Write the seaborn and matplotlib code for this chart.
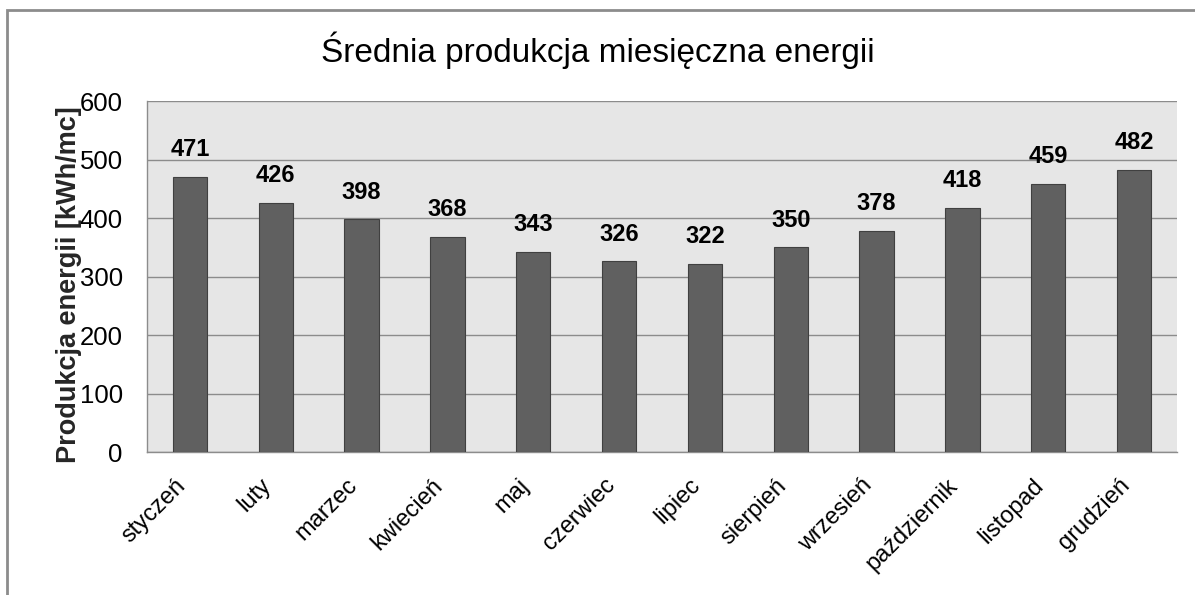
import pandas as pd
import numpy as np
import matplotlib.pyplot as plt
import seaborn as sns
from matplotlib.patches import Rectangle

months = ['styczeń', 'luty', 'marzec', 'kwiecień', 'maj', 'czerwiec',
          'lipiec', 'sierpień', 'wrzesień', 'październik', 'listopad', 'grudzień']
energy = [471, 426, 398, 368, 343, 326, 322, 350, 378, 418, 459, 482]
y_ticks = [0, 100, 200, 300, 400, 500, 600]

df = pd.DataFrame({'miesiac': months, 'energia': energy})

sns.set_style('white')
plt.rcParams['font.family'] = ['Liberation Sans', 'DejaVu Sans']
plt.rcParams['text.color'] = 'black'
plt.rcParams['xtick.color'] = 'black'
plt.rcParams['ytick.color'] = 'black'

fig = plt.figure(figsize=(11.95, 5.95), dpi=100)
ax = fig.add_axes([0.123, 0.240, 0.862, 0.590])

sns.barplot(data=df, x='miesiac', y='energia', color='#606060', width=0.4,
            saturation=1, edgecolor='#404040', linewidth=0.8, ax=ax, zorder=3)

ax.set_facecolor('#e6e6e6')
ax.set_ylim(0, 600)
ax.set_xlim(-0.5, len(months) - 0.5)
ax.set_yticks(y_ticks)
ax.yaxis.grid(True, color='#8c8c8c', linewidth=1, zorder=0)
ax.set_axisbelow(True)

for s in ['top', 'right']:
    ax.spines[s].set_visible(False)
for s in ['left', 'bottom']:
    ax.spines[s].set_color('#8c8c8c')
    ax.spines[s].set_linewidth(1)

# labels sit a bit left of the bar centre, ticks between categories like Excel
ax.set_xticks(np.arange(len(months)) - 0.18)
ax.set_xticklabels(months, rotation=45, ha='right', rotation_mode='anchor', fontsize=17)
ax.tick_params(axis='x', length=0, pad=16)
ax.set_xticks(np.arange(-0.5, len(months)), minor=True)
ax.tick_params(axis='x', which='minor', length=8, color='#8c8c8c', width=1)
ax.tick_params(axis='y', length=6.5, color='#8c8c8c', width=1, labelsize=18.5, pad=11,
               labelcolor='black')

for i, v in enumerate(energy):
    ax.text(i, v + 27, str(v), ha='center', va='bottom', fontsize=17,
            fontweight='bold', zorder=4)

ax.set_xlabel('')
ax.set_ylabel('Produkcja energii [kWh/mc]', fontsize=19.5, fontweight='bold')
ax.yaxis.set_label_coords(-0.063, 0.476)

fig.text(0.5, 0.916, 'Średnia produkcja miesięczna energii', ha='center',
         va='center', fontsize=24)

fig.patches.append(Rectangle((0.006, -0.05), 1.2, 1.033, transform=fig.transFigure,
                             fill=False, edgecolor='#8c8c8c', linewidth=2))

fig.savefig('out.png', dpi=100)
